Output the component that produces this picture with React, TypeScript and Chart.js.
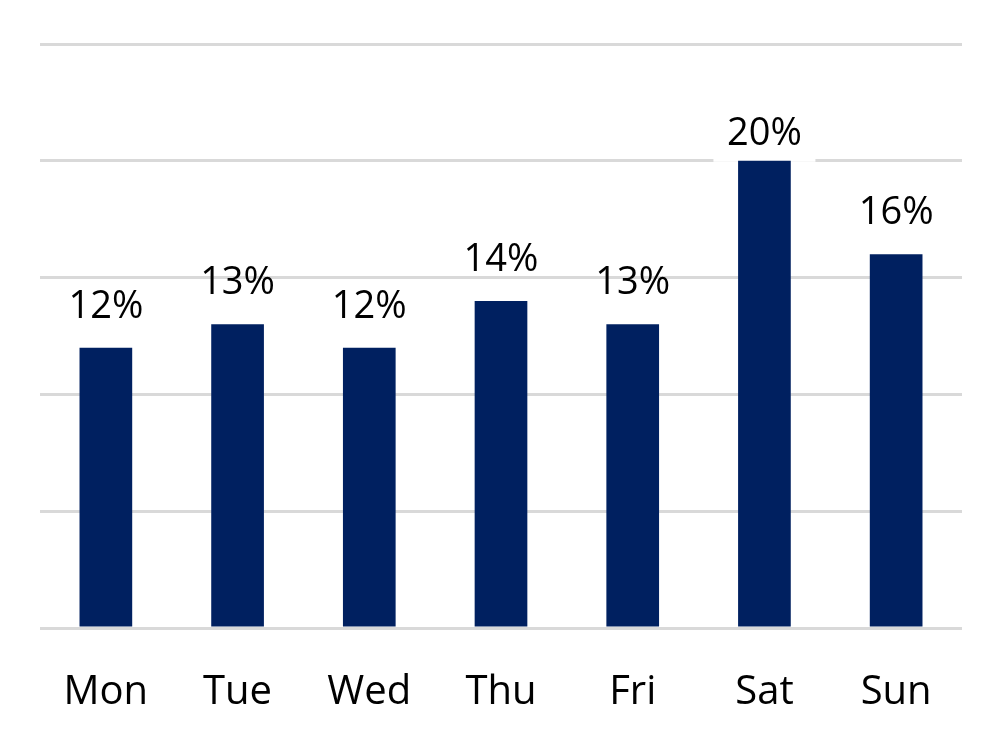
import React, { useEffect, useRef } from "react";
import { Chart, registerables } from "chart.js";

Chart.register(...registerables);

const categories = ["Mon", "Tue", "Wed", "Thu", "Fri", "Sat", "Sun"];
const shares = [12, 13, 12, 14, 13, 20, 16];
const yTicks = [0, 5, 10, 15, 20, 25];
// gap (px) between bar top and label baseline, as placed in the reference
const labelGaps = [30, 30, 30, 30, 30, 16, 30];

const labelPlugin = {
  id: "barLabels",
  beforeDatasetsDraw(chart: any) {
    const ctx = chart.ctx;
    const meta = chart.getDatasetMeta(0);
    ctx.save();
    ctx.font = "38px 'Open Sans'";
    ctx.textAlign = "center";
    ctx.textBaseline = "alphabetic";
    meta.data.forEach((bar: any, i: number) => {
      const text = shares[i] + "%";
      if (labelGaps[i] < 20) {
        ctx.fillStyle = "#ffffff";
        ctx.fillRect(bar.x - 51, bar.y - 4, 102, 5);
      }
      ctx.fillStyle = "#000000";
      ctx.fillText(text, bar.x, bar.y - labelGaps[i]);
    });
    ctx.restore();
  },
};

export default function App() {
  const ref = useRef<HTMLCanvasElement>(null);
  useEffect(() => {
    document.body.style.margin = "0";
    const chart = new Chart(ref.current!, {
      type: "bar",
      data: {
        labels: categories,
        datasets: [
          {
            data: shares,
            backgroundColor: "#002060",
            categoryPercentage: 1,
            barPercentage: 0.4,
          },
        ],
      },
      options: {
        animation: false,
        responsive: false,
        layout: { padding: { left: 40, right: 38, top: 44, bottom: 0 } },
        plugins: { legend: { display: false }, tooltip: { enabled: false } },
        scales: {
          x: {
            grid: { display: false, drawTicks: false },
            border: { display: false },
            ticks: {
              color: "#000000",
              font: { family: "'Open Sans'", size: 40 },
              padding: 41,
              maxRotation: 0,
            },
            afterFit: (s: any) => {
              s.height = 122;
            },
          },
          y: {
            min: 0,
            max: 25,
            afterBuildTicks: (s: any) => {
              s.ticks = yTicks.map((v) => ({ value: v }));
            },
            grid: { color: "#d9d9d9", lineWidth: 3, drawTicks: false },
            border: { display: false },
            ticks: { display: false },
            afterFit: (s: any) => {
              s.width = 0;
            },
          },
        },
      },
      plugins: [labelPlugin],
    });
    return () => chart.destroy();
  }, []);
  return (
    <div style={{ position: "absolute", left: 0, top: 0, width: 1000, height: 750, background: "#fff" }}>
      <canvas ref={ref} width={1000} height={750} />
    </div>
  );
}
